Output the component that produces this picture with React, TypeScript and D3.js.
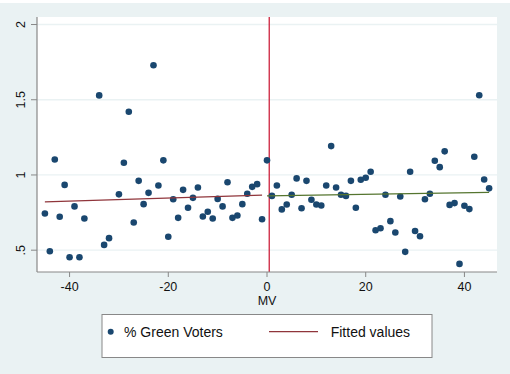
import React from "react";
import * as d3 from "d3";

// running variable (MV) and share of green voters
const mv = [
  -45, -44, -43, -42, -41, -40, -39, -38, -37, -34, -33, -32, -30, -29, -28, -27, -26, -25, -24, -23,
  -22, -21, -20, -19, -18, -17, -16, -15, -14, -13, -12, -11, -10, -9, -8, -7, -6, -5, -4, -3, -2, -1,
  0, 1, 2, 3, 4, 5, 6, 7, 8, 9, 10, 11, 12, 13, 14, 15, 16, 17, 18, 19, 20, 21, 22, 23, 24, 25, 26,
  27, 28, 29, 30, 31, 32, 33, 34, 35, 36, 37, 38, 39, 40, 41, 42, 43, 44, 45,
];
const greenVoters = [
  0.744, 0.493, 1.103, 0.722, 0.934, 0.453, 0.791, 0.453, 0.711, 1.529, 0.535, 0.58, 0.871, 1.081,
  1.42, 0.684, 0.961, 0.806, 0.881, 1.729, 0.93, 1.097, 0.589, 0.839, 0.715, 0.901, 0.782, 0.848,
  0.917, 0.724, 0.755, 0.711, 0.841, 0.791, 0.952, 0.715, 0.731, 0.806, 0.875, 0.921, 0.939, 0.706,
  1.097, 0.861, 0.93, 0.771, 0.804, 0.868, 0.977, 0.779, 0.961, 0.835, 0.804, 0.797, 0.93, 1.192,
  0.917, 0.868, 0.861, 0.961, 0.782, 0.968, 0.981, 1.021, 0.633, 0.646, 0.868, 0.693, 0.618, 0.857,
  0.489, 1.021, 0.628, 0.593, 0.839, 0.875, 1.094, 1.052, 1.157, 0.801, 0.813, 0.409, 0.795, 0.773,
  1.121, 1.53, 0.97, 0.911,
];

// fitted values, left and right of the cutoff
const leftFit: [number, number][] = [[-45, 0.821], [-1, 0.866]];
const rightFit: [number, number][] = [[0, 0.861], [45, 0.884]];
const cutoff = 0.45;

const xTicks = [-40, -20, 0, 20, 40];
const yTicks = [0.5, 1, 1.5, 2];
const yTickLabels = [".5", "1", "1.5", "2"];

const W = 510;
const H = 374;
const font = "'Liberation Sans', Arial, sans-serif";

export default function App() {
  const x = d3.scaleLinear().domain([-46.6, 46.6]).range([37, 497]);
  const y = d3.scaleLinear().domain([0.355, 2.05]).range([272, 17]);
  const line = d3
    .line<[number, number]>()
    .x((d) => x(d[0]))
    .y((d) => y(d[1]));

  const [x0, x1] = x.range();
  const [yb, yt] = y.range();

  return (
    <svg width={W} height={H} style={{ position: "absolute", left: 0, top: 0 }} fontFamily={font}>
      <rect width={W} height={H} fill="#eaf2f3" />
      <rect width={W} height={3} fill="#ffffff" />
      <rect x={x0} y={yt} width={x1 - x0} height={yb - yt} fill="#ffffff" />

      {yTicks.map((t) => (
        <line key={t} x1={x0} x2={x1} y1={y(t)} y2={y(t)} stroke="#eaf2f3" strokeWidth={1.3} />
      ))}

      <line x1={x(cutoff)} x2={x(cutoff)} y1={yt} y2={yb} stroke="#c8102e" strokeWidth={1.2} />

      {mv.map((v, i) => (
        <circle key={i} cx={x(v)} cy={y(greenVoters[i])} r={3.3} fill="#1a476f" />
      ))}

      <path d={line(leftFit) || ""} fill="none" stroke="#90353b" strokeWidth={1.2} />
      <path d={line(rightFit) || ""} fill="none" stroke="#55752f" strokeWidth={1.2} />

      {/* axes */}
      <line x1={x0} x2={x0} y1={yt} y2={yb} stroke="#888" strokeWidth={1.2} />
      <line x1={x0} x2={x1} y1={yb} y2={yb} stroke="#888" strokeWidth={1.2} />

      {yTicks.map((t, i) => (
        <g key={t}>
          <line x1={x0 - 6} x2={x0} y1={y(t)} y2={y(t)} stroke="#888" strokeWidth={1} />
          <text
            transform={`translate(${x0 - 12},${y(t)}) rotate(-90)`}
            textAnchor="middle"
            fontSize={12.5}
            fill="#111"
          >
            {yTickLabels[i]}
          </text>
        </g>
      ))}

      {xTicks.map((t) => (
        <g key={t}>
          <line x1={x(t)} x2={x(t)} y1={yb} y2={yb + 5} stroke="#888" strokeWidth={1} />
          <text x={x(t)} y={yb + 19} textAnchor="middle" fontSize={12.5} fill="#111">
            {t}
          </text>
        </g>
      ))}

      <text x={(x0 + x1) / 2} y={305} textAnchor="middle" fontSize={12.5} fill="#111">
        MV
      </text>

      {/* legend */}
      <rect x={102} y={314.5} width={330} height={43} fill="#ffffff" stroke="#888" strokeWidth={1} />
      <circle cx={110.7} cy={331.7} r={3} fill="#1a476f" />
      <text x={124} y={336.5} fontSize={14} fill="#111">
        % Green Voters
      </text>
      <line x1={269} x2={318} y1={331.7} y2={331.7} stroke="#90353b" strokeWidth={1.2} />
      <text x={330.7} y={336.5} fontSize={14} fill="#111">
        Fitted values
      </text>
    </svg>
  );
}
